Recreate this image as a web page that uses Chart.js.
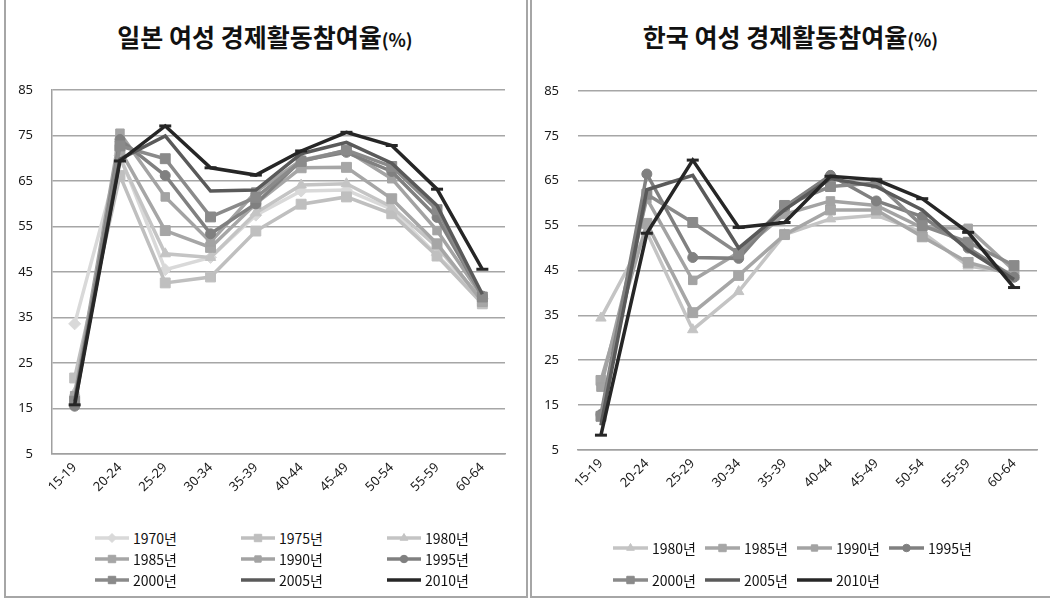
<!DOCTYPE html>
<html>
<head>
<meta charset="utf-8">
<script src="https://cdn.jsdelivr.net/npm/chart.js@4.4.0/dist/chart.umd.min.js"></script>
<style>
  body { margin: 0; width: 1050px; height: 600px; overflow: hidden; background: #fff; font-family: "Noto Sans CJK KR", sans-serif; }
  .panel { position: absolute; top: -2px; height: 600px; border: 2px solid #a6a6a6; box-sizing: border-box; }
  .title { position: absolute; top: 18px; text-align: center; font-weight: bold; font-size: 25px; color: #111; }
  .title span { font-size: 18px; }
  canvas.chart { position: absolute; top: 70px; }
  .legend { position: absolute; display: grid; font-size: 14px; color: #111; }
  .legend div { display: flex; align-items: center; }
  .legend canvas { margin-right: 4px; }
</style>
</head>
<body>
<div class="panel" style="left:4px; width:524px;"></div>
<div class="panel" style="left:530px; width:530px;"></div>

<div class="title" style="left:5px; width:520px;">일본 여성 경제활동참여율<span>(%)</span></div>
<div class="title" style="left:531px; width:519px;">한국 여성 경제활동참여율<span>(%)</span></div>

<canvas id="japanChart" class="chart" width="520" height="439" style="left:5px;"></canvas>
<canvas id="koreaChart" class="chart" width="519" height="438" style="left:531px;"></canvas>

<div id="japanLegend" class="legend" style="left:95px; top:527px; grid-template-columns: 146px 146px 146px; grid-auto-rows: 21px;"></div>
<div id="koreaLegend" class="legend" style="left:613px; top:532px; grid-template-columns: 92px 92px 92px 92px; grid-auto-rows: 32px;"></div>

<script>
// age groups on the x axis
const ageGroups = ['15-19', '20-24', '25-29', '30-34', '35-39', '40-44', '45-49', '50-54', '55-59', '60-64'];
const yTicks = [5, 15, 25, 35, 45, 55, 65, 75, 85];

// Japan, female participation rate (%)
const japanYears = ['1970년', '1975년', '1980년', '1985년', '1990년', '1995년', '2000년', '2005년', '2010년'];
const japan1970 = [33.6, 70.6, 45.5, 48.2, 57.5, 62.8, 63.0, 58.8, 48.7, 39.1];
const japan1975 = [21.7, 66.2, 42.6, 43.9, 54.0, 59.9, 61.5, 57.8, 48.5, 38.0];
const japan1980 = [18.5, 70.0, 49.0, 48.2, 58.0, 64.1, 64.4, 59.3, 50.5, 38.8];
const japan1985 = [16.6, 71.9, 54.1, 50.4, 60.0, 67.9, 68.0, 61.1, 51.2, 38.5];
const japan1990 = [17.8, 75.5, 61.5, 51.6, 62.6, 69.6, 71.7, 65.5, 54.1, 39.5];
const japan1995 = [15.5, 74.1, 66.2, 53.4, 60.0, 69.5, 71.3, 67.1, 57.0, 39.7];
const japan2000 = [16.6, 72.7, 69.9, 57.1, 61.4, 69.3, 71.8, 68.2, 58.7, 39.5];
const japan2005 = [16.5, 69.8, 74.9, 62.8, 63.0, 71.0, 73.5, 68.9, 59.6, 40.1];
const japan2010 = [15.8, 69.4, 77.1, 67.9, 66.3, 71.6, 75.7, 72.8, 63.2, 45.6];
const japanSeries = [japan1970, japan1975, japan1980, japan1985, japan1990, japan1995, japan2000, japan2005, japan2010];

// Korea, female participation rate (%)
const koreaYears = ['1980년', '1985년', '1990년', '1995년', '2000년', '2005년', '2010년'];
const korea1980 = [34.4, 53.5, 31.8, 40.3, 53.0, 56.5, 57.3, 53.5, 46.0, 44.5];
const korea1985 = [20.5, 55.5, 35.6, 43.9, 53.0, 58.5, 58.5, 52.5, 46.8, 44.0];
const korea1990 = [19.0, 61.0, 42.8, 49.0, 57.5, 60.5, 59.5, 54.5, 54.4, 45.0];
const korea1995 = [12.9, 66.5, 47.9, 47.7, 59.2, 66.2, 60.5, 57.0, 50.0, 43.5];
const korea2000 = [12.5, 62.0, 55.7, 48.8, 59.5, 63.7, 64.5, 55.0, 51.3, 46.1];
const korea2005 = [10.5, 63.0, 66.2, 50.0, 58.5, 65.5, 63.7, 58.5, 49.5, 43.0];
const korea2010 = [8.3, 53.3, 69.6, 54.6, 55.7, 66.0, 65.2, 61.0, 53.5, 41.2];
const koreaSeries = [korea1980, korea1985, korea1990, korea1995, korea2000, korea2005, korea2010];

// look of each year (same in both charts)
const yearStyle = {
  '1970년': { color: '#d9d9d9', point: 'rectRot', radius: 6 },
  '1975년': { color: '#bfbfbf', point: 'rect', radius: 7 },
  '1980년': { color: '#c4c4c4', point: 'triangle', radius: 6 },
  '1985년': { color: '#a6a6a6', point: 'rect', radius: 7 },
  '1990년': { color: '#a3a3a3', point: 'rect', radius: 6 },
  '1995년': { color: '#808080', point: 'circle', radius: 5 },
  '2000년': { color: '#8a8a8a', point: 'rect', radius: 7 },
  '2005년': { color: '#5a5a5a', point: 'circle', radius: 0 },
  '2010년': { color: '#262626', point: 'line', radius: 6 }
};

function makeDatasets(years, series) {
  return years.map((y, i) => {
    const s = yearStyle[y];
    return {
      label: y,
      data: series[i],
      borderColor: s.color,
      backgroundColor: s.color,
      borderWidth: 3.5,
      pointStyle: s.point,
      pointRadius: s.radius,
      pointBackgroundColor: s.color,
      pointBorderColor: s.color,
      pointBorderWidth: s.point === 'line' ? 3 : 1,
      tension: 0,
      order: years.length - i
    };
  });
}

function makeChart(id, years, series, padding, showYBorder) {
  return new Chart(document.getElementById(id), {
    type: 'line',
    data: { labels: ageGroups, datasets: makeDatasets(years, series) },
    options: {
      responsive: false,
      animation: false,
      layout: { padding: padding, autoPadding: false },
      plugins: { legend: { display: false }, tooltip: { enabled: false }, title: { display: false } },
      scales: {
        x: {
          offset: true,
          grid: { display: false, drawTicks: false },
          border: { display: true, color: '#a0a0a0', width: 1.5 },
          ticks: { maxRotation: 45, minRotation: 45, padding: 6, color: '#1a1a1a', font: { family: 'Noto Sans', size: 13 } },
          // rotated first label should not push the plot to the right
          afterFit: axis => { axis.paddingLeft = 0; axis.paddingRight = 0; }
        },
        y: {
          min: 5,
          max: 85,
          afterBuildTicks: axis => { axis.ticks = yTicks.map(v => ({ value: v })); },
          // fixed axis width, no extra room above the top tick
          afterFit: axis => { axis.width = 36; axis.paddingTop = 0; axis.paddingBottom = 0; },
          grid: { color: '#a6a6a6', lineWidth: 1.5, drawTicks: false },
          border: { display: showYBorder, color: '#a0a0a0', width: 1.5 },
          ticks: { padding: 19, color: '#1a1a1a', font: { family: 'Noto Sans', size: 13 } }
        }
      }
    }
  });
}

function drawSwatch(cv, ds) {
  const ctx = cv.getContext('2d');
  const cy = cv.height / 2;
  ctx.strokeStyle = ds.borderColor;
  ctx.lineWidth = ds.borderWidth;
  ctx.beginPath();
  ctx.moveTo(0, cy);
  ctx.lineTo(cv.width, cy);
  ctx.stroke();
  if (ds.pointRadius > 0 && ds.pointStyle !== 'line') {
    ctx.fillStyle = ds.pointBackgroundColor;
    ctx.strokeStyle = ds.pointBorderColor;
    ctx.lineWidth = 1;
    Chart.helpers.drawPoint(ctx, { pointStyle: ds.pointStyle, radius: ds.pointRadius * 0.75, borderWidth: 1, rotation: 0 }, cv.width / 2, cy);
  }
}

function buildLegend(chart, boxId, swatchWidth) {
  const box = document.getElementById(boxId);
  chart.data.datasets.forEach(ds => {
    const item = document.createElement('div');
    const cv = document.createElement('canvas');
    cv.width = swatchWidth;
    cv.height = 14;
    drawSwatch(cv, ds);
    item.appendChild(cv);
    item.appendChild(document.createTextNode(ds.label));
    box.appendChild(item);
  });
}

document.addEventListener('DOMContentLoaded', function () {
  const japanChart = makeChart('japanChart', japanYears, japanSeries, { left: 11, right: 20, top: 20, bottom: 8 }, true);
  const koreaChart = makeChart('koreaChart', koreaYears, koreaSeries, { left: 11, right: 13, top: 21, bottom: 11 }, false);
  buildLegend(japanChart, 'japanLegend', 34);
  buildLegend(koreaChart, 'koreaLegend', 35);
});
</script>
</body>
</html>
